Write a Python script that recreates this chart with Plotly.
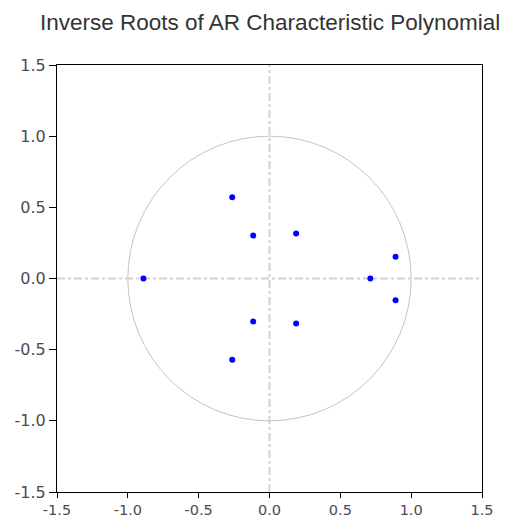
import plotly.graph_objects as go

root_re = [-0.89, -0.263, -0.263, -0.115, -0.115, 0.188, 0.188, 0.712, 0.89, 0.89]
root_im = [0.0, 0.571, -0.571, 0.302, -0.302, 0.317, -0.317, 0.0, 0.152, -0.152]

tick_vals = [-1.5, -1.0, -0.5, 0.0, 0.5, 1.0, 1.5]
tick_text = ["-1.5", "-1.0", "-0.5", "0.0", "0.5", "1.0", "1.5"]

title_text = "Inverse Roots of AR Characteristic Polynomial"

fig = go.Figure()
fig.add_trace(go.Scatter(
    x=root_re, y=root_im, mode="markers",
    marker=dict(color="#0000ff", size=6, symbol="circle", line=dict(width=0)),
    showlegend=False, hoverinfo="x+y",
))

grey = "#d2d2d2"
fig.add_shape(type="circle", xref="x", yref="y", x0=-1, y0=-1, x1=1, y1=1,
              line=dict(color="#c4c4c4", width=1), layer="below")
fig.add_shape(type="line", xref="x", yref="y", x0=-1.5, x1=1.5, y0=0, y1=0,
              line=dict(color=grey, width=2, dash="8px,3px,3px,3px"), layer="below")
fig.add_shape(type="line", xref="x", yref="y", x0=0, x1=0, y0=-1.5, y1=1.5,
              line=dict(color=grey, width=2, dash="8px,3px,3px,3px"), layer="below")

axis_common = dict(
    range=[-1.5, 1.5], tickvals=tick_vals, ticktext=tick_text,
    showgrid=False, zeroline=False, showline=True, linecolor="#000000",
    linewidth=1, mirror=True, ticks="outside", tickwidth=1,
    tickcolor="#000000", automargin=False,
)

fig.update_layout(
    width=506, height=521,
    margin=dict(l=57, r=24, t=65, b=29),
    paper_bgcolor="white", plot_bgcolor="white",
    xaxis=dict(**axis_common, ticklen=5,
               tickfont=dict(family="DejaVu Sans", size=14.5, color="#4a4a55")),
    yaxis=dict(**axis_common, ticklen=7,
               tickfont=dict(family="DejaVu Sans", size=16, color="#4a4a55")),
    annotations=[dict(
        text=title_text, xref="paper", yref="paper", x=0.5, y=1 + 43 / 427,
        xanchor="center", yanchor="middle", showarrow=False,
        font=dict(family="Liberation Sans", size=22.5, color="#333333"),
    )],
)

fig.write_html("out.html")
